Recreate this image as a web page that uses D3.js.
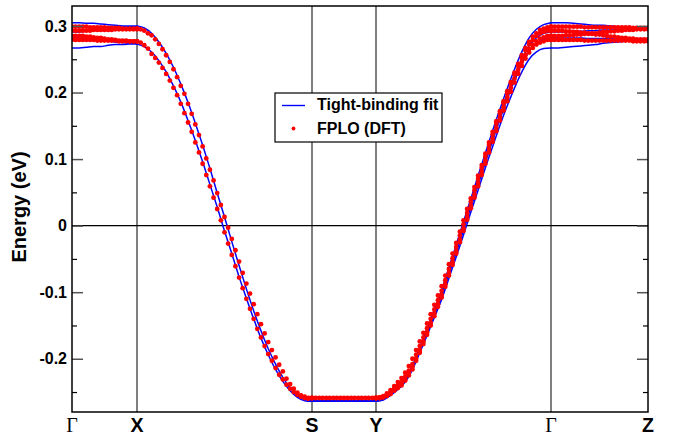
<!DOCTYPE html>
<html>
<head>
<meta charset="utf-8">
<script src="https://cdn.jsdelivr.net/npm/d3@7"></script>
<style>
  body { margin: 0; background: #fff; }
  svg { display: block; }
</style>
</head>
<body>
<svg id="chart" width="675" height="437"></svg>
<script>
// High-symmetry points along the k-path (path coordinate of each point)
const kLabels = ["Γ", "X", "S", "Y", "Γ", "Z"];
const kPoints = [0, 0.65, 2.40, 3.04, 4.79, 5.76];

// Energy axis ticks (eV)
const yMajorTicks = [-0.2, -0.1, 0, 0.1, 0.2, 0.3];
const yMinorTicks = [-0.25, -0.15, -0.05, 0.05, 0.15, 0.25];
const yTickLabels = ["-0.2", "-0.1", "0", "0.1", "0.2", "0.3"];

// Tight-binding bands, one list per band, evenly spaced along each segment
const tbGX = [
  [0.305, 0.305, 0.304, 0.304, 0.303, 0.302, 0.301, 0.300, 0.300, 0.300],
  [0.291, 0.291, 0.292, 0.293, 0.294, 0.295, 0.297, 0.298, 0.299, 0.299],
  [0.282, 0.282, 0.281, 0.280, 0.279, 0.277, 0.276, 0.275, 0.274, 0.274],
  [0.267, 0.267, 0.268, 0.269, 0.269, 0.271, 0.272, 0.272, 0.273, 0.273]
];
const tbXS = [
  [0.300, 0.297, 0.289, 0.276, 0.259, 0.238, 0.213, 0.185, 0.154, 0.121, 0.086, 0.049, 0.013,
   -0.024, -0.060, -0.095, -0.128, -0.158, -0.185, -0.208, -0.228, -0.244, -0.255, -0.261, -0.263],
  [0.273, 0.269, 0.261, 0.248, 0.231, 0.210, 0.186, 0.158, 0.128, 0.096, 0.062, 0.028, -0.008,
   -0.042, -0.077, -0.109, -0.140, -0.169, -0.194, -0.216, -0.234, -0.248, -0.258, -0.263, -0.264]
];
const tbSY = [
  [-0.263, -0.263, -0.263, -0.263, -0.263, -0.263, -0.263],
  [-0.264, -0.264, -0.264, -0.264, -0.264, -0.264, -0.264]
];
const tbYG = [
  [-0.263, -0.260, -0.253, -0.242, -0.229, -0.210, -0.183, -0.155, -0.126, -0.097, -0.063, -0.029, 0.006,
   0.040, 0.075, 0.109, 0.143, 0.175, 0.206, 0.235, 0.261, 0.282, 0.295, 0.302, 0.305],
  [-0.263, -0.261, -0.254, -0.243, -0.231, -0.212, -0.186, -0.159, -0.130, -0.102, -0.068, -0.035, -0.001,
   0.033, 0.067, 0.101, 0.134, 0.166, 0.197, 0.225, 0.250, 0.270, 0.282, 0.289, 0.291],
  [-0.264, -0.261, -0.254, -0.245, -0.233, -0.214, -0.188, -0.161, -0.134, -0.106, -0.073, -0.041, -0.007,
   0.027, 0.061, 0.095, 0.128, 0.160, 0.190, 0.218, 0.243, 0.263, 0.274, 0.280, 0.282],
  [-0.264, -0.262, -0.255, -0.246, -0.235, -0.216, -0.191, -0.165, -0.138, -0.111, -0.079, -0.047, -0.014,
   0.020, 0.053, 0.087, 0.119, 0.151, 0.180, 0.207, 0.231, 0.250, 0.261, 0.266, 0.267]
];
const tbGZ = [
  [0.305, 0.305, 0.305, 0.304, 0.303, 0.302, 0.301, 0.301, 0.300, 0.299, 0.298, 0.297, 0.297, 0.297],
  [0.291, 0.291, 0.291, 0.292, 0.292, 0.293, 0.293, 0.294, 0.294, 0.295, 0.295, 0.296, 0.296, 0.296],
  [0.282, 0.282, 0.282, 0.282, 0.282, 0.281, 0.281, 0.281, 0.281, 0.280, 0.280, 0.280, 0.280, 0.280],
  [0.267, 0.267, 0.268, 0.269, 0.270, 0.271, 0.272, 0.274, 0.275, 0.276, 0.277, 0.278, 0.279, 0.279]
];

// FPLO (DFT) band energies, evenly spaced k-points along each segment
const dftGX = [
  [0.299, 0.299, 0.299, 0.299, 0.299, 0.298, 0.298, 0.298, 0.298, 0.298, 0.297, 0.297, 0.297, 0.297, 0.296, 0.296, 0.296, 0.296, 0.296],
  [0.293, 0.293, 0.293, 0.293, 0.293, 0.293, 0.294, 0.294, 0.294, 0.294, 0.294, 0.294, 0.295, 0.295, 0.295, 0.295, 0.295, 0.295, 0.295],
  [0.285, 0.285, 0.285, 0.285, 0.284, 0.284, 0.283, 0.282, 0.282, 0.281, 0.280, 0.280, 0.279, 0.278, 0.278, 0.278, 0.277, 0.277, 0.277],
  [0.279, 0.279, 0.279, 0.279, 0.279, 0.279, 0.279, 0.278, 0.278, 0.278, 0.278, 0.278, 0.278, 0.277, 0.277, 0.277, 0.277, 0.277, 0.277]
];
const dftXS = [
  [0.296, 0.295, 0.293, 0.289, 0.286, 0.280, 0.273, 0.265, 0.256, 0.246, 0.235, 0.223, 0.210, 0.198, 0.183, 0.168,
   0.152, 0.136, 0.119, 0.101, 0.084, 0.068, 0.049, 0.031, 0.013, -0.003, -0.020, -0.037, -0.054, -0.071, -0.087, -0.102,
   -0.118, -0.133, -0.148, -0.162, -0.175, -0.187, -0.198, -0.209, -0.219, -0.230, -0.238, -0.245, -0.251, -0.255, -0.257,
   -0.259, -0.259],
  [0.277, 0.275, 0.271, 0.266, 0.258, 0.252, 0.245, 0.237, 0.228, 0.218, 0.207, 0.196, 0.183, 0.169, 0.155, 0.141,
   0.125, 0.110, 0.093, 0.076, 0.059, 0.042, 0.025, 0.008, -0.010, -0.027, -0.044, -0.061, -0.078, -0.094, -0.110, -0.125,
   -0.140, -0.155, -0.168, -0.181, -0.193, -0.203, -0.214, -0.224, -0.231, -0.239, -0.245, -0.250, -0.254, -0.257, -0.259,
   -0.260, -0.259]
];
const dftSY = [
  [-0.259, -0.259, -0.259, -0.259, -0.259, -0.259, -0.259, -0.259, -0.259, -0.259, -0.259, -0.259, -0.259, -0.259,
   -0.259, -0.259, -0.259, -0.259, -0.259]
];
const dftYG = [
  [-0.259, -0.258, -0.256, -0.252, -0.247, -0.241, -0.235, -0.229, -0.221, -0.211, -0.200, -0.187, -0.174, -0.161,
   -0.147, -0.133, -0.119, -0.105, -0.091, -0.075, -0.058, -0.042, -0.026, -0.009, 0.008, 0.025, 0.041, 0.058, 0.075,
   0.091, 0.108, 0.125, 0.141, 0.157, 0.172, 0.187, 0.202, 0.216, 0.230, 0.243, 0.256, 0.267, 0.276, 0.284, 0.289,
   0.294, 0.296, 0.298, 0.299],
  [-0.259, -0.258, -0.257, -0.254, -0.250, -0.245, -0.240, -0.235, -0.227, -0.218, -0.208, -0.194, -0.181, -0.168,
   -0.154, -0.140, -0.126, -0.112, -0.098, -0.082, -0.065, -0.049, -0.032, -0.015, 0.002, 0.019, 0.036, 0.053, 0.070,
   0.087, 0.104, 0.121, 0.137, 0.153, 0.169, 0.184, 0.199, 0.213, 0.227, 0.240, 0.252, 0.263, 0.272, 0.279, 0.285,
   0.289, 0.291, 0.293, 0.293],
  [-0.259, -0.259, -0.258, -0.255, -0.251, -0.247, -0.242, -0.237, -0.231, -0.222, -0.212, -0.200, -0.187, -0.174,
   -0.160, -0.146, -0.132, -0.118, -0.104, -0.088, -0.071, -0.055, -0.038, -0.021, -0.004, 0.013, 0.030, 0.047, 0.064,
   0.081, 0.098, 0.115, 0.131, 0.147, 0.163, 0.178, 0.193, 0.207, 0.221, 0.234, 0.246, 0.256, 0.265, 0.272, 0.277,
   0.281, 0.283, 0.285, 0.285],
  [-0.259, -0.259, -0.258, -0.256, -0.253, -0.248, -0.244, -0.240, -0.233, -0.225, -0.216, -0.203, -0.191, -0.178,
   -0.164, -0.150, -0.136, -0.122, -0.108, -0.092, -0.075, -0.059, -0.042, -0.025, -0.008, 0.009, 0.026, 0.042, 0.059,
   0.076, 0.093, 0.110, 0.126, 0.142, 0.158, 0.173, 0.187, 0.201, 0.215, 0.228, 0.240, 0.251, 0.260, 0.267, 0.272,
   0.275, 0.277, 0.279, 0.279]
];
const dftGZ = [
  [0.299, 0.299, 0.299, 0.299, 0.299, 0.299, 0.299, 0.299, 0.299, 0.298, 0.298, 0.298, 0.298, 0.298,
   0.298, 0.298, 0.298, 0.298, 0.298, 0.298, 0.298, 0.298, 0.297, 0.297, 0.297, 0.297, 0.297],
  [0.285, 0.285, 0.285, 0.285, 0.286, 0.286, 0.286, 0.287, 0.287, 0.288, 0.288, 0.289, 0.289, 0.290,
   0.291, 0.291, 0.292, 0.292, 0.293, 0.293, 0.294, 0.294, 0.294, 0.295, 0.295, 0.295, 0.295],
  [0.293, 0.293, 0.293, 0.293, 0.292, 0.292, 0.291, 0.291, 0.290, 0.290, 0.289, 0.288, 0.287, 0.287,
   0.286, 0.285, 0.284, 0.284, 0.283, 0.282, 0.282, 0.281, 0.281, 0.280, 0.280, 0.280, 0.280],
  [0.279, 0.279, 0.279, 0.279, 0.279, 0.279, 0.279, 0.279, 0.279, 0.278, 0.278, 0.278, 0.278, 0.278,
   0.278, 0.278, 0.278, 0.278, 0.278, 0.278, 0.278, 0.278, 0.277, 0.277, 0.277, 0.277, 0.277]
];

const tbSegments = [tbGX, tbXS, tbSY, tbYG, tbGZ];
const dftSegments = [dftGX, dftXS, dftSY, dftYG, dftGZ];

const legendItems = ["Tight-binding fit", "FPLO (DFT)"];

// ---- layout ----
const W = 675, H = 437;
const margin = { top: 6, right: 27, bottom: 25, left: 72 };
const plotW = W - margin.left - margin.right;
const plotH = H - margin.top - margin.bottom;
const sansBold = "'Liberation Sans', Arial, Helvetica, sans-serif";
const serif = "'Liberation Serif', 'Times New Roman', serif";

const svg = d3.select("#chart");
const g = svg.append("g").attr("transform", `translate(${margin.left},${margin.top})`);

const x = d3.scaleLinear().domain([kPoints[0], kPoints[kPoints.length - 1]]).range([0, plotW]);
const y = d3.scaleLinear().domain([-0.28, 0.33]).range([plotH, 0]);

// Spread a segment's values evenly between its two end points in k
function toPoints(values, seg) {
  const k0 = kPoints[seg], k1 = kPoints[seg + 1], n = values.length - 1;
  return values.map((e, i) => ({ k: k0 + (k1 - k0) * i / n, e }));
}

g.append("clipPath").attr("id", "plot-clip")
  .append("rect").attr("width", plotW).attr("height", plotH);

// High-symmetry verticals and the Fermi level
g.append("g").selectAll("line")
  .data(kPoints.slice(1, -1))
  .join("line")
  .attr("x1", d => x(d)).attr("x2", d => x(d))
  .attr("y1", 0).attr("y2", plotH)
  .attr("stroke", "#000").attr("stroke-width", 1);

g.append("line")
  .attr("x1", 0).attr("x2", plotW)
  .attr("y1", y(0)).attr("y2", y(0))
  .attr("stroke", "#000").attr("stroke-width", 1.3);

// Tight-binding curves
const line = d3.line().x(d => x(d.k)).y(d => y(d.e)).curve(d3.curveMonotoneX);
const tbLayer = g.append("g").attr("clip-path", "url(#plot-clip)");
tbSegments.forEach((bands, seg) => {
  bands.forEach(values => {
    tbLayer.append("path")
      .attr("d", line(toPoints(values, seg)))
      .attr("fill", "none")
      .attr("stroke", "#0000ff")
      .attr("stroke-width", 1.5)
      .attr("stroke-linecap", "round");
  });
});

// DFT points
const dftLayer = g.append("g").attr("clip-path", "url(#plot-clip)");
dftSegments.forEach((bands, seg) => {
  bands.forEach(values => {
    dftLayer.selectAll(null)
      .data(toPoints(values, seg))
      .join("circle")
      .attr("cx", d => x(d.k))
      .attr("cy", d => y(d.e))
      .attr("r", 2.4)
      .attr("fill", "#ff0000");
  });
});

// Energy axes: labelled ticks on the left, mirrored ticks on the right
const leftMajor = g.append("g")
  .call(d3.axisLeft(y).tickValues(yMajorTicks).tickSize(-11).tickPadding(5)
    .tickFormat((d, i) => yTickLabels[i]));
leftMajor.select(".domain").remove();
leftMajor.selectAll(".tick line").attr("stroke", "#555").attr("stroke-width", 1.5);
leftMajor.selectAll(".tick text")
  .attr("font-family", sansBold).attr("font-weight", "bold")
  .attr("font-size", 16).attr("fill", "#000");

const leftMinor = g.append("g")
  .call(d3.axisLeft(y).tickValues(yMinorTicks).tickSize(-5).tickFormat(""));
leftMinor.select(".domain").remove();
leftMinor.selectAll(".tick line").attr("stroke", "#000").attr("stroke-width", 1.2);

const rightMajor = g.append("g").attr("transform", `translate(${plotW},0)`)
  .call(d3.axisRight(y).tickValues(yMajorTicks).tickSize(-11).tickFormat(""));
rightMajor.select(".domain").remove();
rightMajor.selectAll(".tick line").attr("stroke", "#555").attr("stroke-width", 1.5);

const rightMinor = g.append("g").attr("transform", `translate(${plotW},0)`)
  .call(d3.axisRight(y).tickValues(yMinorTicks).tickSize(-5).tickFormat(""));
rightMinor.select(".domain").remove();
rightMinor.selectAll(".tick line").attr("stroke", "#000").attr("stroke-width", 1.2);

// Frame
g.append("rect")
  .attr("width", plotW).attr("height", plotH)
  .attr("fill", "none").attr("stroke", "#000").attr("stroke-width", 1.5);

// k-path labels
g.append("g").selectAll("text")
  .data(kLabels)
  .join("text")
  .attr("x", (d, i) => x(kPoints[i]))
  .attr("y", plotH + 20)
  .attr("text-anchor", "middle")
  .attr("font-family", d => d === "Γ" ? serif : sansBold)
  .attr("font-weight", d => d === "Γ" ? "normal" : "bold")
  .attr("font-size", d => d === "Γ" ? 20 : 19.5)
  .attr("fill", "#000")
  .text(d => d);

// Y-axis title
svg.append("text")
  .attr("transform", `translate(26,${margin.top + y(0.028)}) rotate(-90)`)
  .attr("text-anchor", "middle")
  .attr("font-family", sansBold).attr("font-weight", "bold")
  .attr("font-size", 20).attr("fill", "#000")
  .text("Energy (eV)");

// Legend
const lg = svg.append("g").attr("transform", "translate(275,93)");
lg.append("rect")
  .attr("width", 167).attr("height", 49)
  .attr("fill", "#fff").attr("stroke", "#000").attr("stroke-width", 1.2);
lg.append("line")
  .attr("x1", 7).attr("x2", 30).attr("y1", 12.5).attr("y2", 12.5)
  .attr("stroke", "#0000ff").attr("stroke-width", 1.4);
lg.append("circle")
  .attr("cx", 18.5).attr("cy", 35.5).attr("r", 1.9).attr("fill", "#ff0000");
lg.selectAll("text.item")
  .data(legendItems)
  .join("text")
  .attr("class", "item")
  .attr("x", 42)
  .attr("y", (d, i) => 17 + i * 24)
  .attr("font-family", sansBold).attr("font-weight", "bold")
  .attr("font-size", 16).attr("fill", "#000")
  .text(d => d);
</script>
</body>
</html>
